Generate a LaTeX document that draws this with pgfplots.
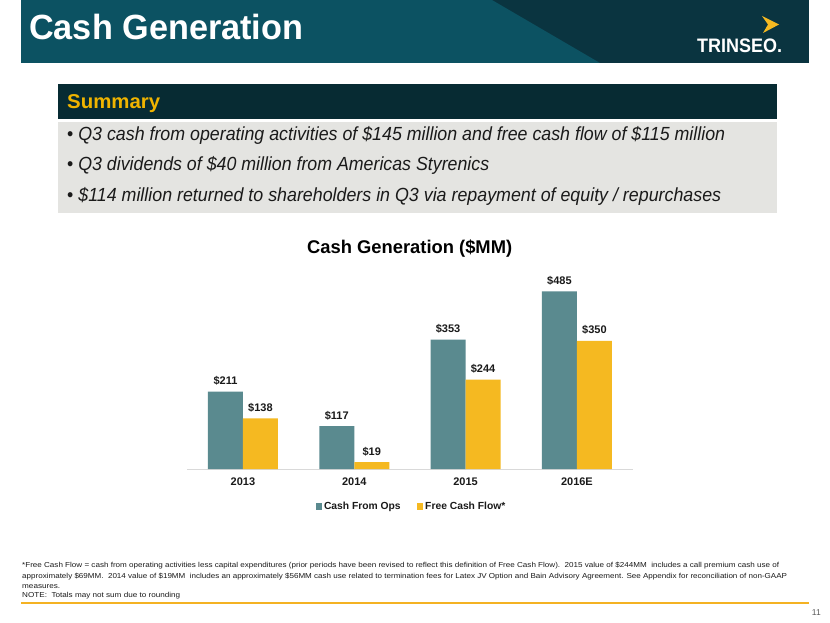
\documentclass[border=0pt]{standalone}
\usepackage{fontspec}
\setmainfont{Liberation Sans}
\usepackage{graphicx}
\usepackage{pgfplots}
\pgfplotsset{compat=1.18}
\definecolor{teallt}{HTML}{0C5262}
\definecolor{tealdk}{HTML}{0A3440}
\definecolor{sumbg}{HTML}{072B33}
\definecolor{sumyel}{HTML}{F0B400}
\definecolor{graybox}{HTML}{E4E4E1}
\definecolor{opsc}{HTML}{5A8A8F}
\definecolor{fcfc}{HTML}{F5B921}
\definecolor{orng}{HTML}{F4B223}
\definecolor{txt}{HTML}{1A1A1A}
\newcommand\fs[1]{\fontsize{#1}{#1}\selectfont}
\newcommand\wbox[2]{\resizebox{#1}{\height}{#2}}
\begin{document}
\begin{tikzpicture}
\fill[white] (0,0) rectangle (830pt,-623pt);
\path[use as bounding box] (0,0) rectangle (830pt,-623pt);
% header band
\fill[tealdk] (21pt,0) rectangle (809pt,-63pt);
\fill[teallt] (21pt,0) -- (492pt,0) -- (600pt,-63pt) -- (21pt,-63pt) -- cycle;
\node[anchor=base west, inner sep=0pt, text=white] at (29pt,-40pt) {\wbox{274pt}{\fs{35}\bfseries Cash Generation}};
% logo
\fill[fcfc] (762pt,-16pt) -- (779pt,-24.5pt) -- (763pt,-33pt) -- (768pt,-24.5pt) -- cycle;
\node[anchor=base west, inner sep=0pt, text=white] at (697pt,-53pt) {\wbox{85pt}{\fs{19.5}\bfseries TRINSEO.}};
% summary
\fill[sumbg] (58pt,-84pt) rectangle (777pt,-119pt);
\node[anchor=base west, inner sep=0pt, text=sumyel] at (67pt,-109pt) {\wbox{93pt}{\fs{20}\bfseries Summary}};
\fill[graybox] (58pt,-122pt) rectangle (777pt,-213pt);
\node[anchor=base west, inner sep=0pt, text=txt] at (67pt,-141pt) {\wbox{658pt}{\fs{19}\textbullet\ \itshape Q3 cash from operating activities of \$145 million and free cash flow of \$115 million}};
\node[anchor=base west, inner sep=0pt, text=txt] at (67pt,-171pt) {\wbox{422pt}{\fs{19}\textbullet\ \itshape Q3 dividends of \$40 million from Americas Styrenics}};
\node[anchor=base west, inner sep=0pt, text=txt] at (67pt,-201pt) {\wbox{654pt}{\fs{19}\textbullet\ \itshape \$114 million returned to shareholders in Q3 via repayment of equity / repurchases}};
% chart title
\node[anchor=base west, inner sep=0pt, text=black] at (307pt,-253pt) {\wbox{205pt}{\fs{18.4}\bfseries Cash Generation (\$MM)}};
% chart
\begin{axis}[
  at={(187.3pt,-469pt)}, anchor=south west,
  scale only axis, width=445.3pt, height=205.2pt,
  xmin=-0.5, xmax=3.5, ymin=0, ymax=560,
  ybar=0pt, bar width=35pt, clip=false,
  axis y line=none, axis x line*=bottom,
  x axis line style={draw=black!15, line width=1pt},
  xtick={0,1,2,3}, xticklabels={2013,2014,2015,2016E},
  major tick length=0pt,
  /pgf/number format/assume math mode=true,
  xticklabel style={font=\fs{11}\bfseries, inner sep=0pt, anchor=base, yshift=-16pt, text=txt},
  nodes near coords={\$\pgfmathprintnumber{\pgfplotspointmeta}},
  every node near coord/.append style={font=\fs{11}\bfseries, inner sep=0pt, anchor=base, yshift=7pt, text=txt},
  legend columns=2, legend cell align=left,
  legend style={at={(axis description cs:0.5,0)}, anchor=north, yshift=-29pt, xshift=1.5pt, draw=none, fill=none,
    font=\fs{10.3}\bfseries, text=txt, /tikz/every even column/.append style={column sep=14pt}},
  legend image code/.code={\fill[#1] (0pt,-3pt) rectangle (6.5pt,3.5pt);},
]
\addplot[fill=opsc, draw=none] coordinates {(0,211) (1,117) (2,353) (3,485)};
\addlegendentry{Cash From Ops}
\addplot[fill=fcfc, draw=none] coordinates {(0,138) (1,19) (2,244) (3,350)};
\addlegendentry{Free Cash Flow*}
\end{axis}
% footnote
\node[anchor=base west, inner sep=0pt, text=txt] at (22pt,-567pt) {\wbox{757pt}{\fs{7.2}*Free Cash Flow = cash from operating activities less capital expenditures (prior periods have been revised to reflect this definition of Free Cash Flow).\ \ 2015 value of \$244MM\ \ includes a call premium cash use of}};
\node[anchor=base west, inner sep=0pt, text=txt] at (22pt,-578pt) {\wbox{765pt}{\fs{7.2}approximately \$69MM.\ \ 2014 value of \$19MM\ \ includes an approximately \$56MM cash use related to termination fees for Latex JV Option and Bain Advisory Agreement. See Appendix for reconciliation of non-GAAP}};
\node[anchor=base west, inner sep=0pt, text=txt] at (22pt,-588pt) {\wbox{38pt}{\fs{7.2}measures.}};
\node[anchor=base west, inner sep=0pt, text=txt] at (22pt,-597pt) {\wbox{158pt}{\fs{7.2}NOTE:\ \ Totals may not sum due to rounding}};
\draw[orng, line width=2pt] (21pt,-603pt) -- (809pt,-603pt);
\node[anchor=base east, inner sep=0pt, text=black!65] at (821pt,-615pt) {\fs{8.5}11};
\end{tikzpicture}
\end{document}
